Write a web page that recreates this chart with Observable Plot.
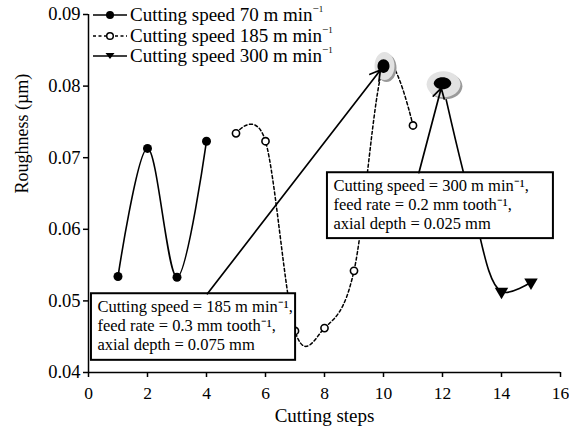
<!DOCTYPE html>
<html>
<head>
<meta charset="utf-8">
<script src="https://cdn.jsdelivr.net/npm/d3@7"></script>
<script src="https://cdn.jsdelivr.net/npm/@observablehq/plot@0.6"></script>
<style>
  html, body { margin: 0; padding: 0; background: #fff; }
  #wrap { position: relative; width: 569px; height: 435px; font-family: "Liberation Serif", "Times New Roman", serif; }
  #legend { position: absolute; left: 92px; top: 5px; }
  .row { display: flex; align-items: center; height: 20.5px; font-size: 19px; color: #000; white-space: nowrap; }
  .row svg { margin-right: 2px; }
  sup { font-size: 11px; vertical-align: 9px; line-height: 0; }
</style>
</head>
<body>
<div id="wrap"><div id="legend"></div></div>
<script>
// ---- data ----
const speed70 = [1, 2, 3, 4];
const rough70 = [0.0534, 0.0713, 0.0533, 0.0723];
const speed185 = [5, 6, 7, 8, 9, 10, 11];
const rough185 = [0.0734, 0.0723, 0.0458, 0.0462, 0.0542, 0.0828, 0.0745];
const speed300 = [12, 13, 14, 15];
const rough300 = [0.0804, 0.0635, 0.0513, 0.0526];
const marked300 = [14, 15]; // steps with a visible triangle marker
const seriesNames = ["Cutting speed 70 m min", "Cutting speed 185 m min", "Cutting speed 300 m min"];
const xTicks = [0, 2, 4, 6, 8, 10, 12, 14, 16];
const yTicks = [0.04, 0.05, 0.06, 0.07, 0.08, 0.09];
const notes = [
  {text: "Cutting speed = 185 m min\u207B\u00B9,\nfeed rate = 0.3 mm tooth\u207B\u00B9,\naxial depth = 0.075 mm",
   x1: 0.1, x2: 7.02, y1: 0.0417, y2: 0.0510, ax: 4.03, ay: 0.0510, tx: 10, ty: 0.0828},
  {text: "Cutting speed = 300 m min\u207B\u00B9,\nfeed rate = 0.2 mm tooth\u207B\u00B9,\naxial depth = 0.025 mm",
   x1: 8.1, x2: 15.76, y1: 0.0587, y2: 0.0679, ax: 11.2, ay: 0.0679, tx: 12, ty: 0.0804}
];
const highlights = [{x: 10, y: 0.0828}, {x: 12, y: 0.0804}];

const s70 = speed70.map((x, i) => ({x, y: rough70[i]}));
const s185 = speed185.map((x, i) => ({x, y: rough185[i]}));
const s300 = speed300.map((x, i) => ({x, y: rough300[i]}));
const s300m = s300.filter(d => marked300.includes(d.x));

function ellipse(ax, ay) {
  return {
    draw(ctx, size) {
      const r = Math.sqrt(size / Math.PI), rx = r * ax, ry = r * ay, k = 0.5523;
      ctx.moveTo(rx, 0);
      ctx.bezierCurveTo(rx, ry * k, rx * k, ry, 0, ry);
      ctx.bezierCurveTo(-rx * k, ry, -rx, ry * k, -rx, 0);
      ctx.bezierCurveTo(-rx, -ry * k, -rx * k, -ry, 0, -ry);
      ctx.bezierCurveTo(rx * k, -ry, rx, -ry * k, rx, 0);
      ctx.closePath();
    }
  };
}
const h10 = [highlights[0]], h12 = [highlights[1]];

const chart = Plot.plot({
  width: 569,
  height: 435,
  marginLeft: 88,
  marginRight: 9,
  marginTop: 14,
  marginBottom: 63,
  style: {fontFamily: "Liberation Serif, Times New Roman, serif", fontSize: "18px", color: "#000", background: "#fff"},
  x: {domain: [0, 16]},
  y: {domain: [0.04, 0.09]},
  marks: [
    Plot.axisX({ticks: xTicks, tickSize: 5, tickPadding: 9, label: null, fontSize: 17.5, strokeWidth: 1.5}),
    Plot.axisY({ticks: yTicks, tickSize: 5, tickPadding: 3, tickFormat: d3.format(".2f"), label: null, fontSize: 18.5, strokeWidth: 1.5}),
    Plot.ruleX([0], {y1: 0.04, y2: 0.09, strokeWidth: 1.5}),
    Plot.ruleY([0.04], {x1: 0, x2: 16, strokeWidth: 1.5}),
    Plot.text(["Cutting steps"], {frameAnchor: "bottom", dy: 49, fontSize: 19}),
    Plot.text(["Roughness (\u00B5m)"], {frameAnchor: "left", dx: -66, rotate: -90, fontSize: 18}),
    // series lines
    Plot.line(s70, {x: "x", y: "y", curve: "catmull-rom", stroke: "#000", strokeWidth: 1.6}),
    Plot.line(s185, {x: "x", y: "y", curve: "cardinal", stroke: "#000", strokeWidth: 1.5, strokeDasharray: "3,2.5"}),
    Plot.line(s300, {x: "x", y: "y", curve: "catmull-rom", stroke: "#000", strokeWidth: 1.6}),
    Plot.dot(s70, {x: "x", y: "y", r: 4.5, fill: "#000"}),
    Plot.dot(s185, {x: "x", y: "y", r: 3.6, fill: "#fff", stroke: "#000", strokeWidth: 1.6}),
    Plot.dot(s300m, {x: "x", y: "y", symbol: "triangle", r: 5, fill: "#000", rotate: (d) => d.x === 14 ? 180 : 60}),
    // annotation boxes
    Plot.rect(notes, {x1: "x1", x2: "x2", y1: "y1", y2: "y2", fill: "#fff", stroke: "#000", strokeWidth: 2}),
    Plot.text(notes, {x: "x1", y: "y2", text: "text", textAnchor: "start", lineAnchor: "top", dx: 6, dy: 5, fontSize: 16.5, lineHeight: 1.15}),
    // highlight halos
    Plot.dot(h10, {x: "x", y: "y", r: 10, symbol: ellipse(1, 1.4), fill: "#9a9a9a", dx: 3, dy: 2}),
    Plot.dot(h10, {x: "x", y: "y", r: 10, symbol: ellipse(1, 1.4), fill: "#e2e2e2", dx: 1}),
    Plot.dot(h10, {x: "x", y: "y", r: 6, symbol: ellipse(1, 1.15), fill: "#000"}),
    Plot.dot(h12, {x: "x", y: "y", r: 13, symbol: ellipse(1.3, 1), fill: "#9a9a9a", dx: 3, dy: 3}),
    Plot.dot(h12, {x: "x", y: "y", r: 13, symbol: ellipse(1.3, 1), fill: "#e2e2e2", dx: 1, dy: 1}),
    Plot.dot(h12, {x: "x", y: "y", r: 6, symbol: ellipse(1.45, 1), fill: "#000"}),
    // arrows from notes
    Plot.arrow(notes, {x1: "ax", y1: "ay", x2: "tx", y2: "ty", bend: 0, stroke: "#000", strokeWidth: 1.7, headLength: 10, insetEnd: 5})
  ]
});
document.getElementById("wrap").appendChild(chart);

// legend
const leg = document.getElementById("legend");
const styles = [
  {dash: null, marker: "fill"},
  {dash: "3,2.5", marker: "open"},
  {dash: null, marker: "tri"}
];
seriesNames.forEach((name, i) => {
  const st = styles[i];
  let m = "";
  if (st.marker === "fill") m = '<circle cx="18" cy="10" r="4" fill="#000"/>';
  if (st.marker === "open") m = '<circle cx="18" cy="10" r="3.3" fill="#fff" stroke="#000" stroke-width="1.5"/>';
  if (st.marker === "tri") m = '<path d="M13.5,7 L22.5,7 L18,13 Z" fill="#000"/>';
  const row = document.createElement("div");
  row.className = "row";
  row.innerHTML = `<svg width="36" height="20"><line x1="1" y1="10" x2="35" y2="10" stroke="#000" stroke-width="1.6" ${st.dash ? `stroke-dasharray="${st.dash}"` : ""}/>${m}</svg><span>${name}<sup>\u2212<span style="font-size:9px">1</span></sup></span>`;
  leg.appendChild(row);
});
</script>
</body>
</html>
